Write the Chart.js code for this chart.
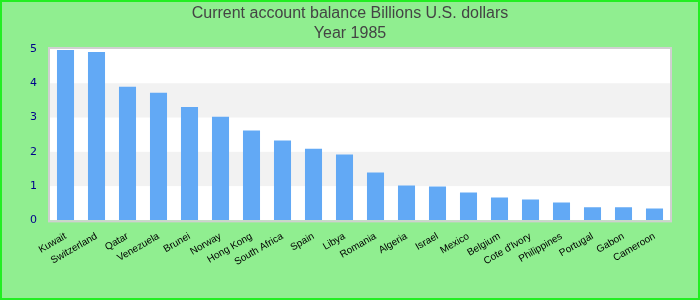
<!DOCTYPE html>
<html><head><meta charset="utf-8">
<script src="https://cdn.jsdelivr.net/npm/chart.js@4"></script>
<style>html,body{margin:0;padding:0;background:#90ee90;}canvas{display:block;}</style>
</head><body>
<canvas id="c" width="700" height="300"></canvas>
<script>
const categories = ["Kuwait","Switzerland","Qatar","Venezuela","Brunei","Norway","Hong Kong","South Africa","Spain","Libya","Romania","Algeria","Israel","Mexico","Belgium","Cote d'Ivory","Philippines","Portugal","Gabon","Cameroon"];
const balance = [4.97,4.91,3.90,3.72,3.31,3.02,2.62,2.33,2.09,1.92,1.40,1.02,0.99,0.81,0.67,0.61,0.52,0.38,0.38,0.35];
const yTicks = [0,1,2,3,4,5];
const titleLines = ["Current account balance Billions U.S. dollars","Year 1985"];

const bgPlugin = {
  id:'bg',
  beforeDraw(chart){
    const {ctx, chartArea:a, scales:{y}} = chart;
    ctx.save();
    ctx.fillStyle='#90ee90';
    ctx.fillRect(0,0,chart.width,chart.height);
    ctx.fillStyle='#ffffff';
    ctx.fillRect(a.left,a.top,a.right-a.left,a.bottom-a.top);
    ctx.fillStyle='#f2f2f2';
    for(let i=0;i<yTicks.length-1;i++){
      if(i%2===1){
        const y1=y.getPixelForValue(yTicks[i]), y2=y.getPixelForValue(yTicks[i+1]);
        ctx.fillRect(a.left,y2,a.right-a.left,y1-y2);
      }
    }
    ctx.restore();
  },
  afterDraw(chart){
    const {ctx, chartArea:a} = chart;
    ctx.save();
    ctx.strokeStyle='#d0d0d0';
    ctx.lineWidth=2;
    ctx.strokeRect(a.left-1,a.top-1,a.right-a.left+2,a.bottom-a.top+2);
    ctx.strokeStyle='#22ee22';
    ctx.lineWidth=2;
    ctx.strokeRect(1,1,chart.width-2,chart.height-2);
    ctx.restore();
  }
};

new Chart(document.getElementById('c'),{
  type:'bar',
  data:{labels:categories,datasets:[{data:balance,backgroundColor:'#62a9f5',barPercentage:0.55,categoryPercentage:1}]},
  options:{
    responsive:false,animation:false,
    layout:{padding:{left:20,right:20,top:1,bottom:22}},
    plugins:{
      legend:{display:false},tooltip:{enabled:false},
      title:{display:true,text:titleLines,color:'#444444',font:{family:'Liberation Sans',size:16,weight:'normal',lineHeight:1.25},padding:{top:3,bottom:5}}
    },
    scales:{
      x:{grid:{display:false,drawTicks:false},border:{display:false},
        ticks:{autoSkip:false,maxRotation:30,minRotation:30,color:'#000000',font:{family:'Liberation Sans',size:10},padding:10}},
      y:{min:0,max:5,grid:{display:false,drawTicks:false},border:{display:false},
        afterBuildTicks(s){s.ticks=yTicks.map(v=>({value:v}));},
        afterFit(s){s.width=30;},
        ticks:{color:'#00008b',font:{family:'DejaVu Sans',size:11},padding:13}},
      y2:{position:'right',display:true,grid:{display:false,drawTicks:false},border:{display:false},
        ticks:{display:false},afterFit(s){s.width=10;}}
    }
  },
  plugins:[bgPlugin]
});
</script>
</body></html>
